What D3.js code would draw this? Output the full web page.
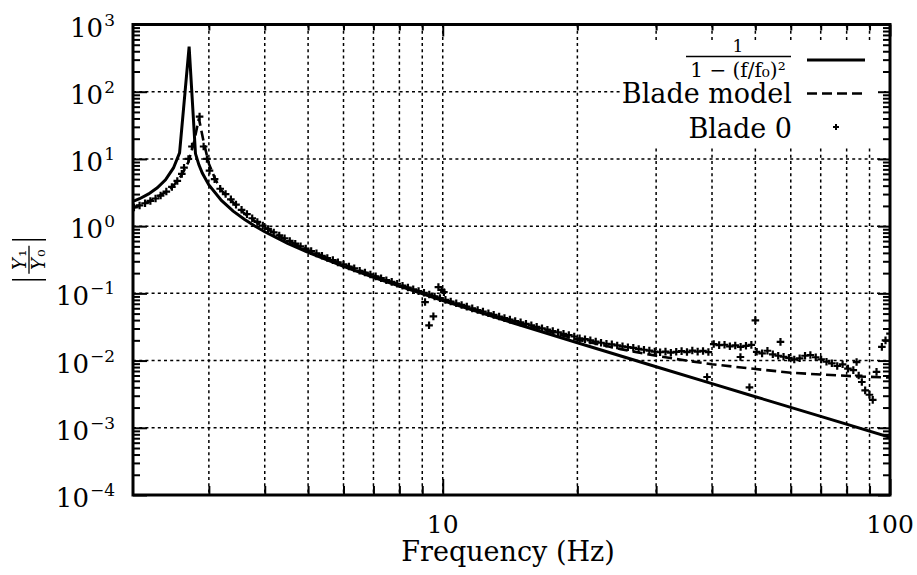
<!DOCTYPE html>
<html><head><meta charset="utf-8">
<script src="https://cdn.jsdelivr.net/npm/d3@7"></script>
<style>
body{margin:0;background:#fff}svg{display:block}
svg text { font-family: "DejaVu Serif", "Liberation Serif", "Noto Serif", serif; }
</style>
</head><body><svg id="c" width="917" height="575"></svg>
<script>
// ---- data ----
const theoryFreq = [2.0,2.1,2.2,2.3,2.4,2.5,2.58,2.71,2.8,2.85,2.9,3.0,3.2,3.4,3.6,3.8,4.0,4.5,5,6,7,8,10,12,15,20,30,40,50,70,100];
const theoryMag  = [2.24,2.56,3.02,3.72,4.90,7.34,12.3,470,12.0,8.16,6.16,4.10,2.41,1.673,1.264,1.004,0.826,0.556,0.407,0.252,0.173,0.128,0.078,0.0529,0.0332,0.0184,0.0081,0.00454,0.0029,0.00148,0.000724];

const modelFreq = [2.0,2.1,2.2,2.3,2.4,2.5,2.6,2.7,2.78,2.85,2.92,3.0,3.1,3.2,3.4,3.6,3.8,4.0,4.5,5,6,7,8,10,12,15,20,25,30,35,40,50,60,70,85,100];
const modelMag  = [1.80,2.03,2.31,2.70,3.20,4.0,5.6,9.0,18,40,18,8.5,5.0,3.4,2.25,1.55,1.19,0.95,0.61,0.44,0.268,0.183,0.135,0.082,0.0560,0.0358,0.0205,0.0148,0.0118,0.0100,0.0088,0.0075,0.0066,0.0062,0.0058,0.0056];

const blade0Freq = [2.04,2.10,2.16,2.22,2.28,2.34,2.41,2.48,2.55,2.61,2.64,2.70,2.75,2.86,2.92,2.97,3.01,3.09,3.18,3.27,
  3.36,3.45,3.55,3.65,3.75,3.85,3.96,4.07,4.19,4.31,4.43,4.55,4.68,4.81,4.94,5.08,5.22,5.37,5.52,5.68,
  5.83,6.00,6.17,6.34,6.52,6.70,6.89,7.08,7.28,7.48,7.69,7.91,8.13,8.36,8.59,8.83,9.08,9.13,9.32,9.33,
  9.53,9.59,9.78,9.86,9.95,10.06,10.14,10.42,10.72,11.02,11.32,11.64,11.97,12.30,12.65,13.00,13.37,13.74,14.13,14.52,
  14.93,15.35,15.78,16.22,16.67,17.14,17.62,18.11,18.62,19.14,19.68,20.23,20.80,21.38,21.98,22.59,23.23,23.88,24.55,25.23,
  25.94,26.67,27.42,28.18,28.97,29.79,30.62,31.48,32.36,33.27,34.20,35.16,36.14,37.15,38.19,39.00,39.26,40.36,41.50,42.66,
  43.85,45.08,46.30,46.35,47.64,48.50,48.98,50.00,50.35,51.76,53.21,54.70,56.23,56.90,57.81,59.43,61.09,62.81,64.57,66.37,
  68.23,70.15,72.11,74.13,76.21,78.34,80.54,82.79,84.20,85.11,86.50,88.00,89.95,91.50,93.30,95.90,97.72,100.0];
const blade0Mag = [1.90,2.03,2.19,2.37,2.58,2.85,3.27,3.83,4.7,6.0,7.4,10.0,15.3,42.6,15.3,10.0,6.7,5.0,3.6,3.0,
  2.5,2.09,1.75,1.51,1.31,1.155,1.02,0.908,0.806,0.727,0.660,0.602,0.548,0.501,0.464,0.425,0.394,0.362,0.336,0.312,
  0.289,0.269,0.251,0.235,0.217,0.204,0.191,0.179,0.168,0.157,0.148,0.139,0.130,0.122,0.115,0.108,0.102,0.0743,0.0335,0.096,
  0.0455,0.090,0.124,0.085,0.113,0.104,0.080,0.0757,0.0713,0.0672,0.0635,0.0598,0.0564,0.0535,0.0505,0.0478,0.0452,0.0428,0.0406,0.0388,
  0.0370,0.0352,0.0335,0.0318,0.0302,0.0288,0.0275,0.0262,0.0250,0.0240,0.0228,0.0215,0.0208,0.0200,0.0192,0.0184,0.0178,0.0174,0.0168,0.0163,
  0.0158,0.0155,0.0149,0.0145,0.0141,0.0136,0.0133,0.0136,0.0131,0.0135,0.0138,0.0134,0.0141,0.0136,0.0139,0.0057,0.0134,0.0176,0.0170,0.0172,
  0.0163,0.0168,0.0113,0.0160,0.0166,0.0040,0.0171,0.0397,0.0135,0.0128,0.0140,0.0124,0.0118,0.0190,0.0114,0.0110,0.0104,0.0108,0.0118,0.0121,
  0.0112,0.0104,0.0096,0.0091,0.0083,0.0088,0.0076,0.0072,0.0095,0.0060,0.0048,0.0036,0.0031,0.0026,0.0068,0.0160,0.0200,0.0252];

const xTickLabels = [10, 100];
const yTickExponents = [3, 2, 1, 0, -1, -2, -3, -4];
const legendNames = ["Blade model", "Blade 0"];
const legendFormulaNum = "1";
const legendFormulaDen = "1 \u2212 (f/f\u2080)\u00B2";
const xTitle = "Frequency (Hz)";

// ---- layout ----
const L = 133, R = 890, T = 24.5, B = 495;
const svg = d3.select('#c');
const x = d3.scaleLog().domain([2.03, 100]).range([L, R]);
const y = d3.scaleLog().domain([1e-4, 1e3]).range([B, T]);

svg.append('rect').attr('width', 917).attr('height', 575).attr('fill', '#fff');

const isDecade = v => Math.abs(Math.log10(v) - Math.round(Math.log10(v))) < 1e-6;
const xAll = x.ticks().filter(v => v > 2.03 && v < 100);
const yAll = y.ticks();
const yMajor = yAll.filter(isDecade);
const yMinor = yAll.filter(v => !isDecade(v));
const xMajor = xAll.filter(isDecade).concat([100]);
const xMinor = xAll.filter(v => !isDecade(v));

// grid
const grid = svg.append('g').attr('stroke', '#000').attr('stroke-width', 1.5).attr('stroke-dasharray', '3,3.2');
grid.selectAll('line.v').data(xAll).join('line').attr('class','v')
  .attr('x1', d => x(d)).attr('x2', d => x(d)).attr('y1', T).attr('y2', B);
grid.selectAll('line.h').data(yMajor.filter(v => v > 1e-4 && v < 1e3)).join('line').attr('class','h')
  .attr('x1', L).attr('x2', R).attr('y1', d => y(d)).attr('y2', d => y(d));

// opaque key area
svg.append('rect').attr('x', 622).attr('y', 43).attr('width', 262).attr('height', 104).attr('fill', '#fff');

// clip
svg.append('clipPath').attr('id', 'clip').append('rect').attr('x', L).attr('y', T).attr('width', R - L).attr('height', B - T);
const plot = svg.append('g').attr('clip-path', 'url(#clip)');

const line = d3.line().x(d => x(d[0])).y(d => y(d[1]));
plot.append('path').datum(d3.zip(theoryFreq, theoryMag)).attr('d', line)
  .attr('fill', 'none').attr('stroke', '#000').attr('stroke-width', 3).attr('stroke-linejoin', 'miter');
plot.append('path').datum(d3.zip(modelFreq, modelMag)).attr('d', line)
  .attr('fill', 'none').attr('stroke', '#000').attr('stroke-width', 2.6).attr('stroke-dasharray', '10,5');

const plus = (g, cx, cy, a) => {
  g.append('path').attr('d', `M${cx - a},${cy}H${cx + a}M${cx},${cy - a}V${cy + a}`);
};
const pts = plot.append('g').attr('stroke', '#000').attr('stroke-width', 2.2).attr('fill', 'none');
d3.zip(blade0Freq, blade0Mag).forEach(d => plus(pts, x(d[0]), y(d[1]), 3.8));

// axes (ticks inward)
const tk = (sel) => sel.call(g => g.select('.domain').remove()).selectAll('line').attr('stroke', '#000').attr('stroke-width', 2);
svg.append('g').attr('transform', `translate(0,${B})`).call(d3.axisTop(x).tickValues(xMinor).tickSize(9).tickFormat('')).call(tk);
svg.append('g').attr('transform', `translate(0,${B})`).call(d3.axisTop(x).tickValues(xMajor).tickSize(16).tickFormat('')).call(tk);
svg.append('g').attr('transform', `translate(0,${T})`).call(d3.axisBottom(x).tickValues(xMinor).tickSize(6).tickFormat('')).call(tk);
svg.append('g').attr('transform', `translate(0,${T})`).call(d3.axisBottom(x).tickValues(xMajor).tickSize(12).tickFormat('')).call(tk);
svg.append('g').attr('transform', `translate(${L},0)`).call(d3.axisRight(y).tickValues(yMinor).tickSize(7).tickFormat('')).call(tk);
svg.append('g').attr('transform', `translate(${L},0)`).call(d3.axisRight(y).tickValues(yMajor).tickSize(14).tickFormat('')).call(tk);
svg.append('g').attr('transform', `translate(${R},0)`).call(d3.axisLeft(y).tickValues(yMinor).tickSize(7).tickFormat('')).call(tk);
svg.append('g').attr('transform', `translate(${R},0)`).call(d3.axisLeft(y).tickValues(yMajor).tickSize(12).tickFormat('')).call(tk);

svg.append('rect').attr('x', L).attr('y', T).attr('width', R - L).attr('height', B - T)
  .attr('fill', 'none').attr('stroke', '#000').attr('stroke-width', 3);

// y tick labels
yTickExponents.forEach(e => {
  const t = svg.append('text').attr('x', 115).attr('y', y(Math.pow(10, e)) + 12)
    .attr('text-anchor', 'end').attr('fill', '#000');
  t.append('tspan').attr('font-size', 26).text('10');
  t.append('tspan').attr('font-size', 17).attr('dx', 1).attr('dy', -11).text(e < 0 ? '\u2212' + (-e) : String(e));
});
// x tick labels
xTickLabels.forEach(v => {
  svg.append('text').attr('x', x(v)).attr('y', 533).attr('text-anchor', 'middle')
    .attr('font-size', 25).text(String(v));
});
// x title
svg.append('text').attr('x', 508).attr('y', 561).attr('text-anchor', 'middle')
  .attr('font-size', 27).text(xTitle);

// y title |Y1/Y0|
const yl = svg.append('g').attr('transform', `translate(29,${(T + B) / 2}) rotate(-90)`).attr('fill', '#000');
yl.append('line').attr('x1', -20).attr('x2', -20).attr('y1', -17).attr('y2', 17).attr('stroke', '#000').attr('stroke-width', 1.6);
yl.append('line').attr('x1', 20).attr('x2', 20).attr('y1', -17).attr('y2', 17).attr('stroke', '#000').attr('stroke-width', 1.6);
yl.append('line').attr('x1', -14).attr('x2', 14).attr('y1', 0).attr('y2', 0).attr('stroke', '#000').attr('stroke-width', 1.3);
const yn = yl.append('text').attr('x', 0).attr('y', -3).attr('text-anchor', 'middle').attr('font-size', 18);
yn.append('tspan').attr('font-style', 'italic').text('Y');
yn.append('tspan').attr('dx', 1.5).text('\u2081');
const yd = yl.append('text').attr('x', 0).attr('y', 16).attr('text-anchor', 'middle').attr('font-size', 18);
yd.append('tspan').attr('font-style', 'italic').text('Y');
yd.append('tspan').attr('dx', 1.5).text('\u2080');

// legend
const lg = svg.append('g').attr('fill', '#000');
lg.append('text').attr('x', 738).attr('y', 52).attr('text-anchor', 'middle').attr('font-size', 17).text(legendFormulaNum);
lg.append('line').attr('x1', 686).attr('x2', 791).attr('y1', 56.5).attr('y2', 56.5).attr('stroke', '#000').attr('stroke-width', 1.4);
lg.append('text').attr('x', 738).attr('y', 77).attr('text-anchor', 'middle').attr('font-size', 20).text(legendFormulaDen);
lg.append('line').attr('x1', 807).attr('x2', 865).attr('y1', 60).attr('y2', 60).attr('stroke', '#000').attr('stroke-width', 3);

lg.append('text').attr('x', 792).attr('y', 103).attr('text-anchor', 'end').attr('font-size', 27).text(legendNames[0]);
lg.append('line').attr('x1', 807).attr('x2', 865).attr('y1', 93.5).attr('y2', 93.5).attr('stroke', '#000')
  .attr('stroke-width', 2.6).attr('stroke-dasharray', '10,5');
lg.append('text').attr('x', 792).attr('y', 137.5).attr('text-anchor', 'end').attr('font-size', 27).text(legendNames[1]);
const lp = lg.append('g').attr('stroke', '#000').attr('stroke-width', 2).attr('fill', 'none');
plus(lp, 836, 127, 3);
</script></body></html>
